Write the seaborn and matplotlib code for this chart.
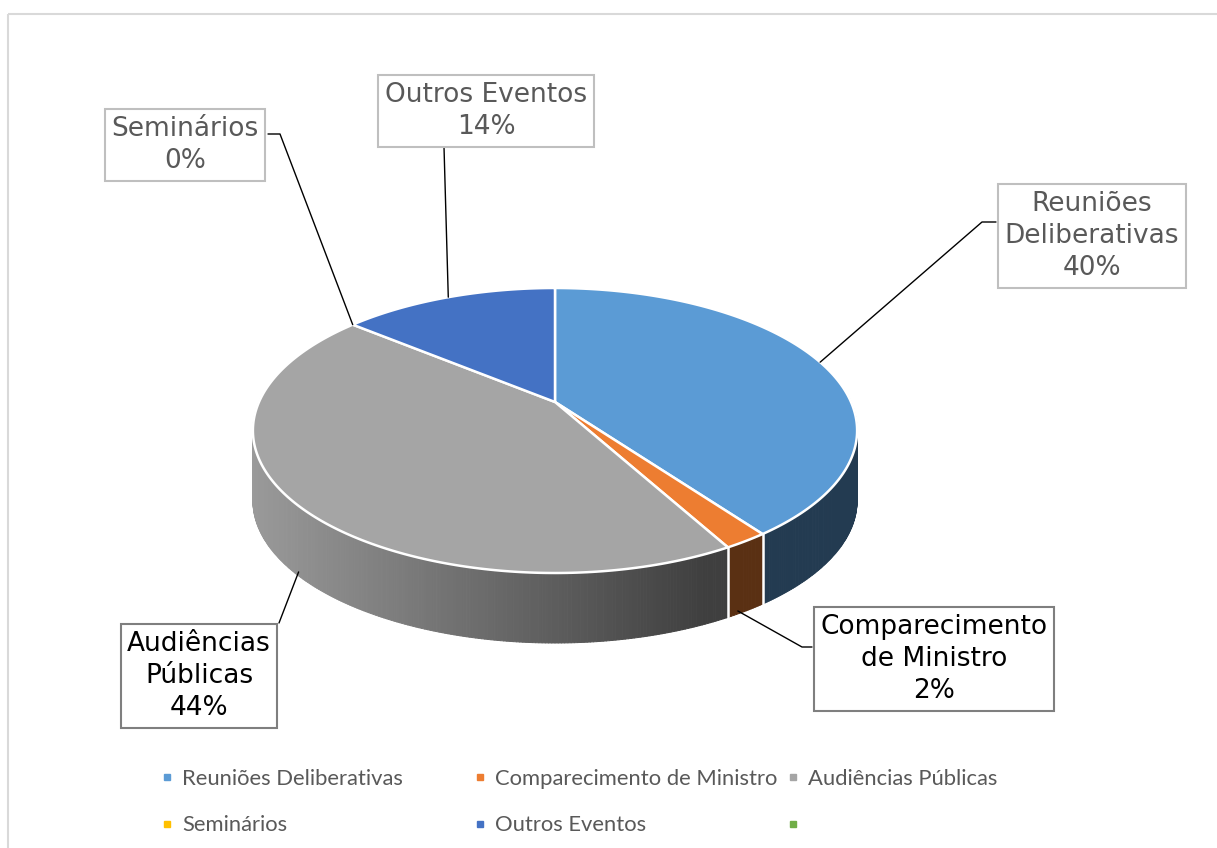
import numpy as np
import matplotlib
matplotlib.use("Agg")
import matplotlib.pyplot as plt
import seaborn as sns
from matplotlib.collections import PolyCollection
from matplotlib.patches import Polygon, Rectangle
from matplotlib.lines import Line2D
from matplotlib.legend import Legend

# data
categories = ["Reuniões Deliberativas", "Comparecimento de Ministro", "Audiências Públicas",
              "Seminários", "Outros Eventos", ""]
values = [40, 2, 44, 0, 14]
label_names = ["Reuniões\nDeliberativas", "Comparecimento\nde Ministro", "Audiências\nPúblicas",
               "Seminários", "Outros Eventos"]
colors = ["#5B9BD5", "#ED7D31", "#A5A5A5", "#FFC000", "#4472C4", "#70AD47"]

sns.set_theme(style="white")
palette = sns.color_palette(colors)
plt.rcParams['font.family'] = ['DejaVu Sans']

fig = plt.figure(figsize=(12.17, 8.48), dpi=100)
ax = fig.add_axes([0, 0, 1, 1])
ax.set_xlim(0, 1217)
ax.set_ylim(848, 0)
ax.axis('off')

# chart frame
ax.add_patch(Rectangle((8, 14), 1240, 860, fill=False, edgecolor="#D9D9D9", lw=1.5))

# 3d pie geometry (perspective projected disk)
cx, cy, a, b, k, depth = 555, 402, 296, 136.8, 0.2, 70


def proj(theta_deg):
    t = np.radians(theta_deg)
    u, v = np.sin(t), np.cos(t)
    w = 1 + k * v
    return cx + a * u / w, cy - b * v / w, v


frac = np.array(values, dtype=float) / sum(values)
bounds = np.concatenate([[0], np.cumsum(frac) * 360])


def slice_of(theta):
    idx = np.searchsorted(bounds, theta, side='right') - 1
    return min(max(idx, 0), len(values) - 1)


# side walls, back to front
segs = np.linspace(0, 360, 721)
quads, fcs, vs = [], [], []
for t0, t1 in zip(segs[:-1], segs[1:]):
    tm = (t0 + t1) / 2
    xm, ym, vm = proj(tm)
    if vm > 0.05:
        continue
    x0, y0, _ = proj(t0)
    x1, y1, _ = proj(t1)
    s = np.clip(0.93 - (xm - 255) * 0.00122, 0.38, 0.95)
    base = np.array(palette[slice_of(tm)])
    quads.append([(x0, y0), (x1, y1), (x1, y1 + depth), (x0, y0 + depth)])
    fcs.append(tuple(base * s))
    vs.append(vm)
order = np.argsort(vs)[::-1]
ax.add_collection(PolyCollection([quads[i] for i in order],
                                 facecolors=[fcs[i] for i in order],
                                 edgecolors=[fcs[i] for i in order], linewidths=0.7))

for t in bounds[1:-1]:
    x, y, v = proj(t)
    if v < -k:
        ax.plot([x, x], [y, y + depth], color="white", lw=1.8, zorder=3)

# top faces
for i, val in enumerate(values):
    if val == 0:
        continue
    th = np.linspace(bounds[i], bounds[i + 1], 200)
    pts = [(cx, cy)] + [proj(t)[:2] for t in th]
    ax.add_patch(Polygon(pts, closed=True, facecolor=palette[i], edgecolor="white",
                         lw=1.8, joinstyle='round', zorder=4))

# data labels with leader lines
boxes = {
    0: dict(xy=(1092, 236), anchor=[(996, 222), (982, 222)], dark=False),
    1: dict(xy=(934, 659), anchor=[(812, 647), (802, 647)], dark=True),
    2: dict(xy=(199, 676), anchor=[(279, 623)], dark=True),
    3: dict(xy=(185, 145), anchor=[(268, 134), (280, 134)], dark=False),
    4: dict(xy=(486, 111), anchor=[(444, 147)], dark=False),
}
for i, spec in boxes.items():
    mid = (bounds[i] + bounds[i + 1]) / 2
    ex, ey, ev = proj(mid)
    if ev < 0:
        ey += depth
        ex += 5 if ex < cx else -8
    pts = spec['anchor'] + [(ex, ey)]
    ax.plot([p[0] for p in pts], [p[1] for p in pts], color="black", lw=1, zorder=5)
    pct = 100 * frac[i]
    tc = "black" if spec['dark'] else "#595959"
    ec = "#7F7F7F" if spec['dark'] else "#BFBFBF"
    ax.text(spec['xy'][0], spec['xy'][1], f"{label_names[i]}\n{pct:.0f}%",
            ha='center', va='center', fontsize=19, color=tc, linespacing=1.3, zorder=6,
            bbox=dict(boxstyle="square,pad=0.25", facecolor="white", edgecolor=ec, lw=1.5))

# legend in three fixed columns
col_x = [160, 473, 786]
for c in range(3):
    idx = [c, c + 3]
    handles = [Line2D([], [], marker='s', ls='none', markersize=5, color=palette[j]) for j in idx]
    leg = Legend(ax, handles, [categories[j] for j in idx], loc='upper left',
                 bbox_to_anchor=(col_x[c], 769), bbox_transform=ax.transData,
                 frameon=False, borderpad=0, borderaxespad=0, handlelength=0.6,
                 handletextpad=0.4, labelspacing=1.2,
                 prop={'family': 'Lato', 'size': 15.8})
    for txt in leg.get_texts():
        txt.set_color("#595959")
    ax.add_artist(leg)

fig.savefig("out.png", dpi=100)
